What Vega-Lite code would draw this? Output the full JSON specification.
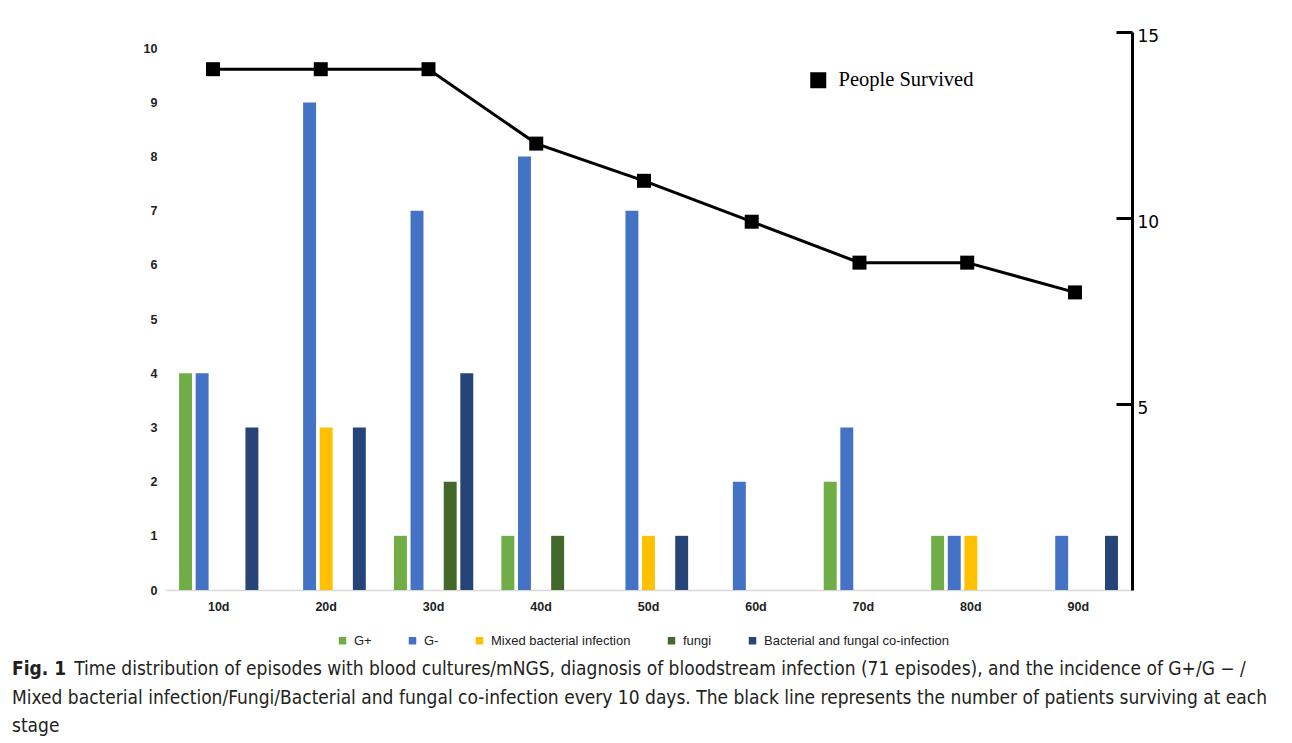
{
  "$schema": "https://vega.github.io/schema/vega-lite/v6.json",
  "width": 967,
  "height": 558,
  "autosize": {"type": "none"},
  "padding": {"left": 165, "top": 32, "right": 160, "bottom": 153},
  "background": "white",
  "config": {"view": {"stroke": null}},
  "title": {
    "text": "Fig. 1",
    "subtitle": [
      "\u200b\u2003\u2003\u2003\u00a0\u00a0Time distribution of episodes with blood cultures/mNGS, diagnosis of bloodstream infection (71 episodes), and the incidence of G+/G − /",
      "Mixed bacterial infection/Fungi/Bacterial and fungal co-infection every 10 days. The black line represents the number of patients surviving at each",
      "stage"
    ],
    "orient": "bottom",
    "anchor": "start",
    "frame": "group",
    "offset": 12,
    "dx": -153,
    "font": "DejaVu Sans Condensed",
    "fontSize": 19,
    "fontWeight": "bold",
    "color": "#231f20",
    "subtitleFont": "DejaVu Sans Condensed",
    "subtitleFontSize": 19,
    "subtitleFontWeight": "normal",
    "subtitleColor": "#231f20",
    "subtitleLineHeight": 28.5,
    "subtitlePadding": -19
  },
  "datasets": {
    "bars": [
      {"day": "10d", "type": "G+", "count": 4},
      {"day": "10d", "type": "G-", "count": 4},
      {"day": "10d", "type": "Bacterial and fungal co-infection", "count": 3},
      {"day": "20d", "type": "G-", "count": 9},
      {"day": "20d", "type": "Mixed bacterial infection", "count": 3},
      {"day": "20d", "type": "Bacterial and fungal co-infection", "count": 3},
      {"day": "30d", "type": "G+", "count": 1},
      {"day": "30d", "type": "G-", "count": 7},
      {"day": "30d", "type": "fungi", "count": 2},
      {"day": "30d", "type": "Bacterial and fungal co-infection", "count": 4},
      {"day": "40d", "type": "G+", "count": 1},
      {"day": "40d", "type": "G-", "count": 8},
      {"day": "40d", "type": "fungi", "count": 1},
      {"day": "50d", "type": "G-", "count": 7},
      {"day": "50d", "type": "Mixed bacterial infection", "count": 1},
      {"day": "50d", "type": "Bacterial and fungal co-infection", "count": 1},
      {"day": "60d", "type": "G-", "count": 2},
      {"day": "70d", "type": "G+", "count": 2},
      {"day": "70d", "type": "G-", "count": 3},
      {"day": "80d", "type": "G+", "count": 1},
      {"day": "80d", "type": "G-", "count": 1},
      {"day": "80d", "type": "Mixed bacterial infection", "count": 1},
      {"day": "90d", "type": "G-", "count": 1},
      {"day": "90d", "type": "Bacterial and fungal co-infection", "count": 1}
    ],
    "survival": [
      {"day": "10d", "survived": 14},
      {"day": "20d", "survived": 14},
      {"day": "30d", "survived": 14},
      {"day": "40d", "survived": 12},
      {"day": "50d", "survived": 11},
      {"day": "60d", "survived": 9.9},
      {"day": "70d", "survived": 8.8},
      {"day": "80d", "survived": 8.8},
      {"day": "90d", "survived": 8}
    ]
  },
  "layer": [
    {
      "data": {"name": "bars"},
      "mark": {"type": "bar"},
      "encoding": {
        "x": {
          "field": "day",
          "type": "nominal",
          "scale": {"paddingInner": 0.228, "paddingOuter": 0.114},
          "axis": {
            "title": null,
            "domainColor": "#d9d9d9",
            "domainWidth": 1.5,
            "ticks": false,
            "grid": false,
            "labelAngle": 0,
            "labelPadding": 10,
            "labelFont": "Liberation Sans",
            "labelFontSize": 12.5,
            "labelFontWeight": "bold",
            "labelColor": "#222222"
          }
        },
        "xOffset": {
          "field": "type",
          "type": "nominal",
          "scale": {
            "domain": ["G+", "G-", "Mixed bacterial infection", "fungi", "Bacterial and fungal co-infection"],
            "paddingInner": 0.22,
            "paddingOuter": 0.11
          }
        },
        "y": {
          "field": "count",
          "type": "quantitative",
          "scale": {"domain": [0, 10.3], "nice": false},
          "axis": {
            "title": null,
            "values": [0, 1, 2, 3, 4, 5, 6, 7, 8, 9, 10],
            "domain": false,
            "ticks": false,
            "grid": false,
            "labelPadding": 8,
            "labelFont": "Liberation Sans",
            "labelFontSize": 12.5,
            "labelFontWeight": "bold",
            "labelColor": "#222222"
          }
        },
        "color": {
          "field": "type",
          "type": "nominal",
          "scale": {
            "domain": ["G+", "G-", "Mixed bacterial infection", "fungi", "Bacterial and fungal co-infection"],
            "range": ["#70AD47", "#4472C4", "#FFC000", "#43682B", "#264478"]
          },
          "legend": {
            "orient": "none",
            "legendX": 171,
            "legendY": 602,
            "direction": "horizontal",
            "columns": 5,
            "title": null,
            "padding": 0,
            "symbolType": "square",
            "symbolSize": 56,
            "symbolStrokeWidth": 0,
            "labelFont": "Liberation Sans",
            "labelFontSize": 13,
            "labelColor": "#222222",
            "labelOffset": 5,
            "labelLimit": 400,
            "columnPadding": 34
          }
        }
      }
    },
    {
      "data": {"name": "survival"},
      "encoding": {
        "x": {
          "field": "day",
          "type": "ordinal",
          "scale": {"type": "point", "padding": 0.4875, "align": 0.457},
          "axis": null
        },
        "y": {
          "field": "survived",
          "type": "quantitative",
          "scale": {"domain": [0, 15], "nice": false},
          "axis": {
            "orient": "right",
            "title": null,
            "values": [5, 10, 15],
            "grid": false,
            "domainColor": "black",
            "domainWidth": 3,
            "tickColor": "black",
            "tickWidth": 3,
            "tickSize": -16,
            "labelPadding": 21,
            "labelOffset": 4,
            "labelBaseline": "middle",
            "labelFont": "DejaVu Sans",
            "labelFontSize": 17,
            "labelColor": "black"
          }
        }
      },
      "layer": [
        {"mark": {"type": "line", "color": "black", "strokeWidth": 3}},
        {
          "mark": {"type": "point", "shape": "square", "filled": true, "size": 196, "opacity": 1},
          "encoding": {
            "color": {
              "datum": "People Survived",
              "scale": {"range": ["black"]},
              "legend": {
                "orient": "none",
                "legendX": 643,
                "legendY": 38,
                "title": null,
                "padding": 0,
                "symbolType": "square",
                "symbolSize": 256,
                "symbolStrokeWidth": 0,
                "labelFont": "Liberation Serif",
                "labelFontSize": 20.5,
                "labelColor": "black",
                "labelOffset": 10
              }
            }
          }
        }
      ]
    }
  ],
  "resolve": {"scale": {"x": "independent", "y": "independent", "color": "independent"}}
}
